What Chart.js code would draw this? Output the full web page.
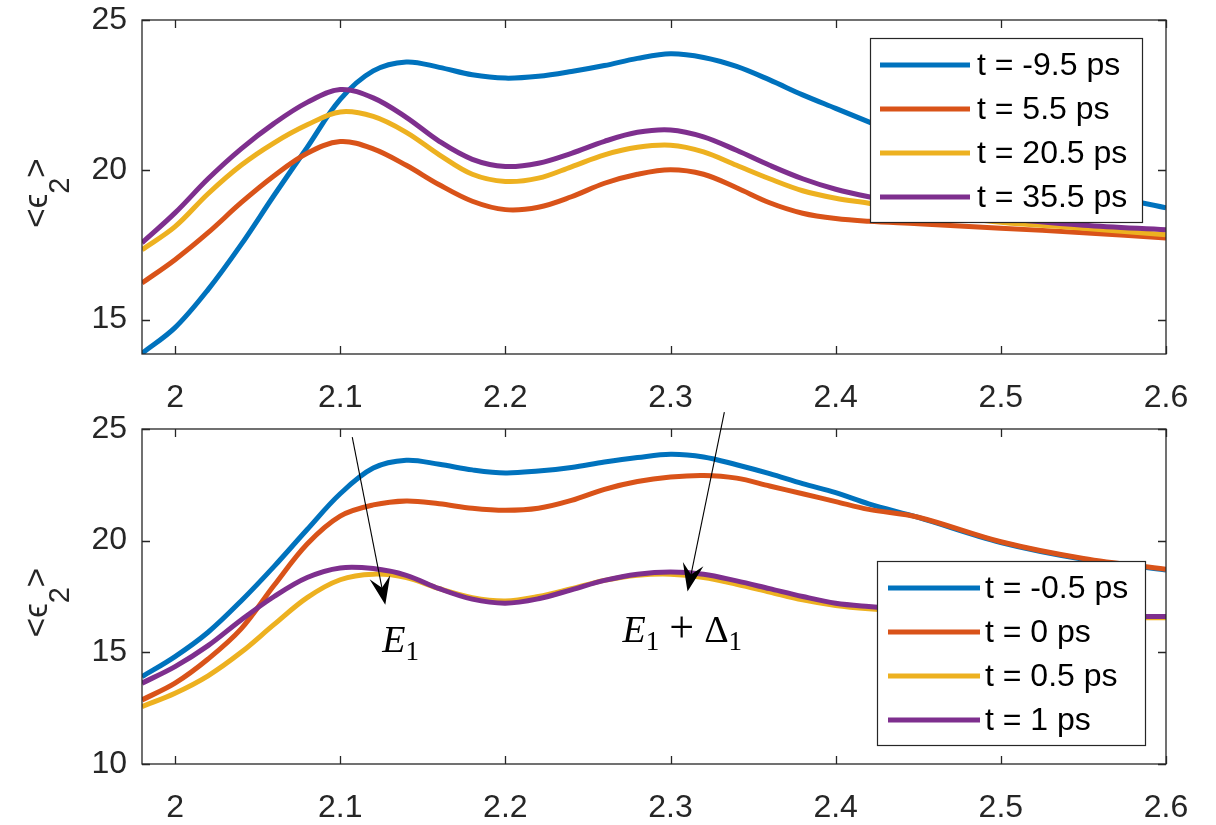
<!DOCTYPE html>
<html>
<head>
<meta charset="utf-8">
<script src="https://cdn.jsdelivr.net/npm/chart.js@4.4.1/dist/chart.umd.min.js"></script>
<style>
  html, body { margin: 0; padding: 0; background: #ffffff; }
  #wrap { position: relative; width: 1216px; height: 825px; overflow: hidden; background: #fff; }
  canvas { position: absolute; left: 0; }
  #c1 { top: 0; }
  #c2 { top: 410px; }
</style>
</head>
<body>
<div id="wrap">
  <canvas id="c1" width="1216" height="410"></canvas>
  <canvas id="c2" width="1216" height="415"></canvas>
</div>
<script>
// ---------- data ----------
const xs = [1.98, 2.00, 2.02, 2.04, 2.06, 2.08, 2.10, 2.12, 2.14, 2.16, 2.18, 2.20, 2.22, 2.24,
            2.26, 2.28, 2.30, 2.32, 2.34, 2.36, 2.38, 2.40, 2.42, 2.45, 2.50, 2.55, 2.60];

const xTicks = [2.0, 2.1, 2.2, 2.3, 2.4, 2.5, 2.6];
const topYTicks = [15, 20, 25];
const bottomYTicks = [10, 15, 20, 25];

const topLabels = ['t = -9.5 ps', 't = 5.5 ps', 't = 20.5 ps', 't = 35.5 ps'];
const topBlue   = [13.87, 14.73, 16.0, 17.5, 19.15, 20.75, 22.35, 23.3, 23.6, 23.42, 23.17, 23.06, 23.12, 23.28,
                   23.48, 23.72, 23.87, 23.75, 23.45, 23.0, 22.5, 22.05, 21.6, 20.9, 19.95, 19.3, 18.73];
const topOrange = [16.22, 17.0, 17.9, 18.9, 19.8, 20.55, 20.94, 20.7, 20.15, 19.5, 18.95, 18.67, 18.75, 19.1,
                   19.55, 19.85, 20.0, 19.85, 19.4, 18.9, 18.55, 18.37, 18.28, 18.2, 18.05, 17.9, 17.72];
const topYellow = [17.33, 18.1, 19.2, 20.15, 20.9, 21.5, 21.93, 21.78, 21.25, 20.5, 19.85, 19.61, 19.72, 20.1,
                   20.5, 20.75, 20.82, 20.6, 20.15, 19.7, 19.3, 19.05, 18.88, 18.6, 18.25, 18.05, 17.83];
const topPurple = [17.56, 18.56, 19.7, 20.7, 21.55, 22.25, 22.68, 22.4, 21.75, 20.95, 20.35, 20.11, 20.22, 20.55,
                   20.95, 21.25, 21.33, 21.1, 20.65, 20.15, 19.7, 19.35, 19.1, 18.8, 18.4, 18.15, 18.0];

const bottomLabels = ['t = -0.5 ps', 't = 0 ps', 't = 0.5 ps', 't = 1 ps'];
const bottomBlue   = [13.91, 14.81, 15.9, 17.3, 18.85, 20.5, 22.1, 23.25, 23.6, 23.42, 23.17, 23.03, 23.12, 23.28,
                      23.52, 23.72, 23.87, 23.75, 23.4, 23.0, 22.55, 22.15, 21.65, 21.04, 19.92, 19.17, 18.69];
const bottomOrange = [12.87, 13.62, 14.7, 16.05, 18.0, 19.85, 21.1, 21.6, 21.78, 21.65, 21.45, 21.36, 21.45, 21.8,
                      22.3, 22.65, 22.85, 22.92, 22.8, 22.45, 22.1, 21.75, 21.4, 21.05, 19.95, 19.2, 18.72];
const bottomYellow = [12.57, 13.17, 13.95, 15.0, 16.25, 17.45, 18.25, 18.5, 18.35, 17.85, 17.45, 17.3, 17.5, 17.85,
                      18.22, 18.45, 18.5, 18.35, 18.05, 17.7, 17.35, 17.1, 16.95, 16.8, 16.62, 16.55, 16.55];
const bottomPurple = [13.62, 14.36, 15.3, 16.45, 17.5, 18.35, 18.78, 18.75, 18.45, 17.85, 17.38, 17.2, 17.4, 17.8,
                      18.22, 18.5, 18.6, 18.5, 18.2, 17.85, 17.5, 17.2, 17.05, 16.88, 16.7, 16.62, 16.6];

const seriesColors = ['#0072BD', '#D95319', '#EDB120', '#7E2F8E'];

// annotation anchors (data units) for the lower panel
const arrowE1   = { from: [2.1073, 24.64], to: [2.1273, 17.13] };
const arrowE1D1 = { from: [2.3326, 25.76], to: [2.3103, 17.72] };
const labelE1   = { at: [2.1255, 15.02] };
const labelE1D1 = { at: [2.2710, 15.47] };

// ---------- helpers ----------
const AX = '#262626';
const SANS = '"Liberation Sans", Arial, Helvetica, sans-serif';
const SERIF = '"Liberation Serif", "Times New Roman", serif';

function pts(ys) { return xs.map((x, i) => ({ x: x, y: ys[i] })); }

function drawMath(ctx, x, y, parts, size) {
  let cx = x;
  for (const p of parts) {
    if (p.space) { cx += p.space; continue; }
    const fs = p.sub ? Math.round(size * 0.7) : (p.scale ? Math.round(size * p.scale) : size);
    ctx.font = (p.italic ? 'italic ' : '') + fs + 'px ' + SERIF;
    ctx.fillStyle = '#000';
    ctx.textAlign = 'left';
    ctx.textBaseline = 'alphabetic';
    ctx.fillText(p.t, cx, y + (p.sub ? size * 0.22 : 0));
    cx += ctx.measureText(p.t).width;
  }
}

function drawArrow(ctx, x1, y1, x2, y2) {
  ctx.save();
  ctx.strokeStyle = '#000';
  ctx.fillStyle = '#000';
  ctx.lineWidth = 1.1;
  const dx = x2 - x1, dy = y2 - y1, L = Math.hypot(dx, dy);
  const ux = dx / L, uy = dy / L, nx = -uy, ny = ux;
  const hl = 28, hw = 10.5;
  ctx.beginPath();
  ctx.moveTo(x1, y1);
  ctx.lineTo(x2 - ux * hl * 0.6, y2 - uy * hl * 0.6);
  ctx.stroke();
  ctx.beginPath();
  ctx.moveTo(x2, y2);
  ctx.lineTo(x2 - ux * hl + nx * hw, y2 - uy * hl + ny * hw);
  ctx.lineTo(x2 - ux * hl * 0.62, y2 - uy * hl * 0.62);
  ctx.lineTo(x2 - ux * hl - nx * hw, y2 - uy * hl - ny * hw);
  ctx.closePath();
  ctx.fill();
  ctx.restore();
}

const framePlugin = {
  id: 'frame',
  afterDatasetsDraw(chart, args, opts) {
    const ctx = chart.ctx;
    const a = chart.chartArea;
    const xs_ = chart.scales.x, ys_ = chart.scales.y;
    ctx.save();
    // box
    ctx.strokeStyle = AX;
    ctx.lineWidth = 1.3;
    ctx.strokeRect(a.left, a.top, a.right - a.left, a.bottom - a.top);
    // inward ticks
    const tl = 8;
    ctx.beginPath();
    xs_.ticks.forEach(t => {
      const px = Math.round(xs_.getPixelForValue(t.value)) + 0.5;
      if (px < a.left - 0.5 || px > a.right + 0.5) return;
      ctx.moveTo(px, a.bottom); ctx.lineTo(px, a.bottom - tl);
      ctx.moveTo(px, a.top); ctx.lineTo(px, a.top + tl);
    });
    ys_.ticks.forEach(t => {
      const py = Math.round(ys_.getPixelForValue(t.value)) + 0.5;
      ctx.moveTo(a.left, py); ctx.lineTo(a.left + tl, py);
      ctx.moveTo(a.right, py); ctx.lineTo(a.right - tl, py);
    });
    ctx.stroke();

    // legend
    const lg = opts.legend;
    const lx = a.right - lg.rightGap - lg.width;
    const ly = lg.fromBottom ? a.bottom - lg.bottomGap - lg.height : a.top + lg.topGap;
    ctx.fillStyle = '#fff';
    ctx.fillRect(lx, ly, lg.width, lg.height);
    ctx.strokeStyle = AX;
    ctx.lineWidth = 1.2;
    ctx.strokeRect(lx + 0.5, ly + 0.5, lg.width, lg.height);
    chart.data.datasets.forEach((ds, i) => {
      const yy = ly + lg.first + i * lg.step;
      ctx.strokeStyle = ds.borderColor;
      ctx.lineWidth = 5;
      ctx.beginPath();
      ctx.moveTo(lx + lg.lineStart, yy);
      ctx.lineTo(lx + lg.lineEnd, yy);
      ctx.stroke();
      ctx.fillStyle = '#000';
      ctx.font = lg.fontSize + 'px ' + SANS;
      ctx.textAlign = 'left';
      ctx.textBaseline = 'middle';
      ctx.fillText(ds.label, lx + lg.textStart, yy + 1);
    });

    // annotations
    if (opts.annotate) {
      const X = v => xs_.getPixelForValue(v), Y = v => ys_.getPixelForValue(v);
      drawArrow(ctx, X(arrowE1.from[0]), Y(arrowE1.from[1]), X(arrowE1.to[0]), Y(arrowE1.to[1]));
      drawArrow(ctx, X(arrowE1D1.from[0]), Y(arrowE1D1.from[1]), X(arrowE1D1.to[0]), Y(arrowE1D1.to[1]));
      drawMath(ctx, X(labelE1.at[0]), Y(labelE1.at[1]),
               [{ t: 'E', italic: true }, { t: '1', sub: true }], 38);
      drawMath(ctx, X(labelE1D1.at[0]), Y(labelE1D1.at[1]),
               [{ t: 'E', italic: true }, { t: '1', sub: true }, { space: 10 }, { t: '+', scale: 1.15 }, { space: 10 },
                { t: 'Δ' }, { t: '1', sub: true }], 38);
    }

    // y axis title <ϵ2>
    const cy = (a.top + a.bottom) / 2;
    ctx.translate(opts.titleX, cy);
    ctx.rotate(-Math.PI / 2);
    ctx.fillStyle = AX;
    ctx.textBaseline = 'alphabetic';
    ctx.textAlign = 'left';
    const big = '33px ' + SANS, small = '29px ' + SANS;
    const segs = [{ t: '<', f: big, dy: 0 }, { t: 'ϵ', f: big, dy: 0 }, { t: '2', f: small, dy: 22 }, { t: '>', f: big, dy: 0 }];
    let total = 0;
    segs.forEach(s => { ctx.font = s.f; s.w = ctx.measureText(s.t).width; total += s.w; });
    let cx = -total / 2 - 6;
    segs.forEach(s => { ctx.font = s.f; ctx.fillText(s.t, cx, s.dy); cx += s.w; });
    ctx.restore();
  }
};

function makeChart(canvasId, series, labels, yMin, yMax, yTicks, padTop, xAxisH, legendOpts, annotate) {
  const ctx = document.getElementById(canvasId).getContext('2d');
  return new Chart(ctx, {
    type: 'line',
    data: {
      datasets: series.map((s, i) => ({
        label: labels[i],
        data: pts(s),
        borderColor: seriesColors[i],
        backgroundColor: seriesColors[i],
        borderWidth: 5,
        pointRadius: 0,
        tension: 0.35,
        fill: false,
        order: series.length - i
      }))
    },
    options: {
      responsive: false,
      animation: false,
      devicePixelRatio: 1,
      layout: { padding: { top: padTop, right: 50, left: 0, bottom: 0 } },
      plugins: {
        legend: { display: false },
        tooltip: { enabled: false },
        frame: { legend: legendOpts, annotate: annotate, titleX: 47 }
      },
      scales: {
        x: {
          type: 'linear',
          min: 1.98, max: 2.6,
          grid: { display: false, drawTicks: false },
          border: { display: false },
          afterBuildTicks: s => { s.ticks = xTicks.map(v => ({ value: v })); },
          afterFit: s => { s.height = xAxisH; s.paddingLeft = 0; s.paddingRight = 0; },
          ticks: {
            autoSkip: false, maxRotation: 0, padding: 25,
            color: AX, font: { family: SANS, size: 32 },
            callback: v => String(Math.round(v * 10) / 10)
          }
        },
        y: {
          type: 'linear',
          min: yMin, max: yMax,
          grid: { display: false, drawTicks: false },
          border: { display: false },
          afterBuildTicks: s => { s.ticks = yTicks.map(v => ({ value: v })); },
          afterFit: s => { s.width = 142; s.paddingTop = 0; s.paddingBottom = 0; },
          ticks: {
            autoSkip: false, padding: 15,
            color: AX, font: { family: SANS, size: 32 },
            callback: v => String(v)
          }
        }
      }
    },
    plugins: [framePlugin]
  });
}

makeChart('c1', [topBlue, topOrange, topYellow, topPurple], topLabels, 13.85, 25, topYTicks, 20, 56,
  { width: 272, height: 184, rightGap: 24, topGap: 18, fromBottom: false,
    first: 27, step: 44, lineStart: 10, lineEnd: 100, textStart: 107, fontSize: 32 }, false);

makeChart('c2', [bottomBlue, bottomOrange, bottomYellow, bottomPurple], bottomLabels, 10, 25, bottomYTicks, 19, 61,
  { width: 268, height: 184, rightGap: 21, bottomGap: 19, fromBottom: true,
    first: 27, step: 44, lineStart: 11, lineEnd: 103, textStart: 108, fontSize: 32 }, true);
</script>
</body>
</html>
